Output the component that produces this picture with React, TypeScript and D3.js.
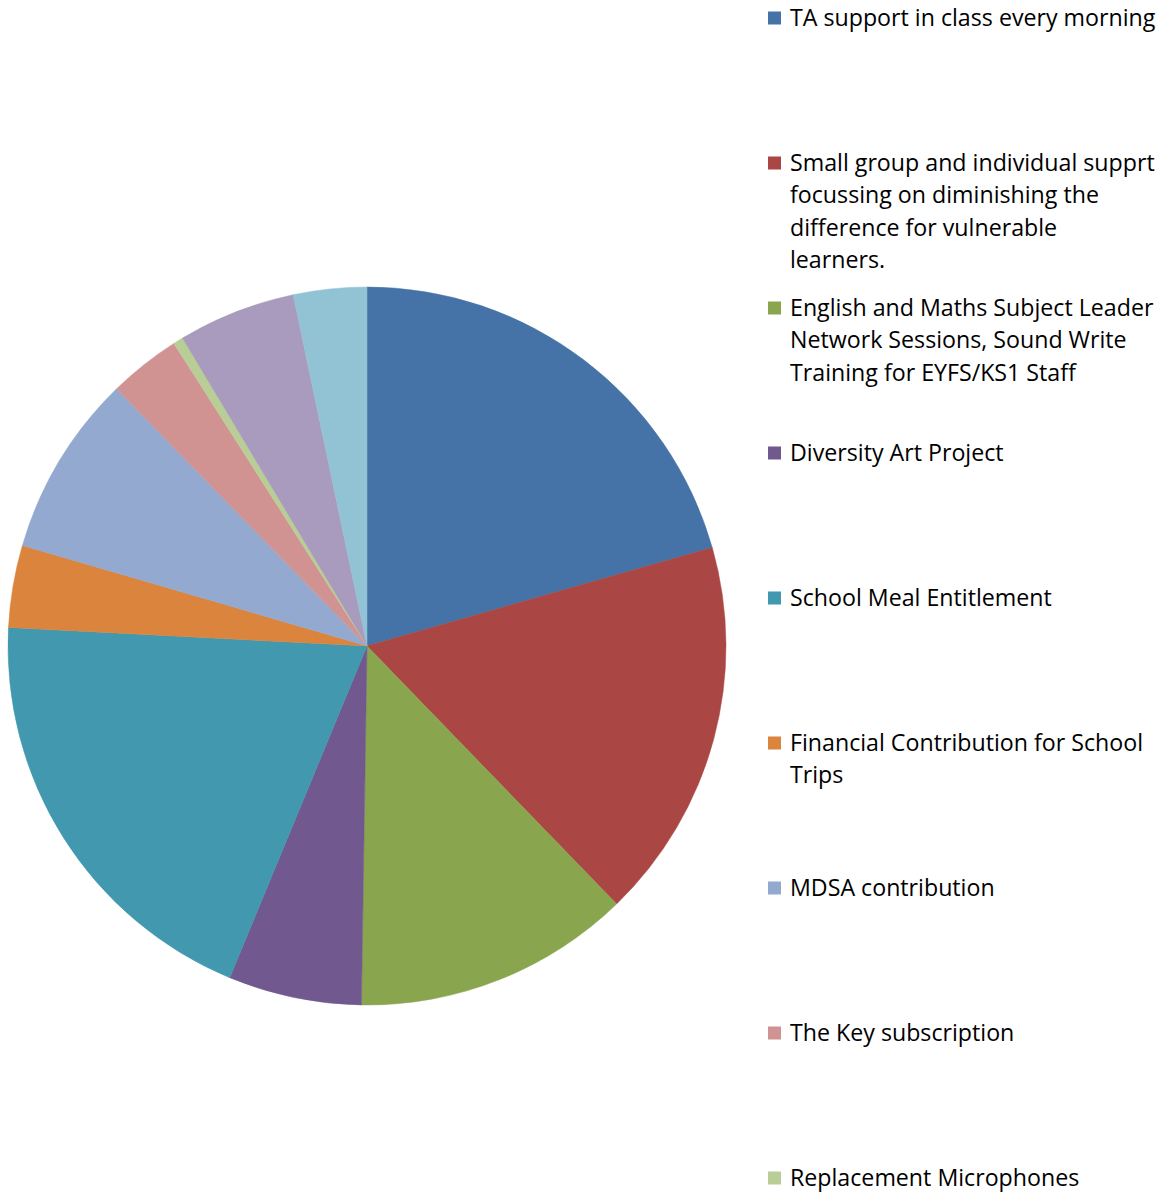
import React from "react";
import * as d3 from "d3";

const categories = [
  "TA support in class every morning",
  "Small group and individual supprt focussing on diminishing the difference for vulnerable learners.",
  "English and Maths Subject Leader Network Sessions, Sound Write Training for EYFS/KS1 Staff",
  "Diversity Art Project",
  "School Meal Entitlement",
  "Financial Contribution for School Trips",
  "MDSA contribution",
  "The Key subscription",
  "Replacement Microphones",
  "Item 10",
  "Item 11",
];

const legendLines: string[][] = [
  ["TA support in class every morning"],
  ["Small group and individual supprt", "focussing on diminishing the", "difference for vulnerable", "learners."],
  ["English and Maths Subject Leader", "Network Sessions, Sound Write", "Training for EYFS/KS1 Staff"],
  ["Diversity Art Project"],
  ["School Meal Entitlement"],
  ["Financial Contribution for School", "Trips"],
  ["MDSA contribution"],
  ["The Key subscription"],
  ["Replacement Microphones"],
  ["Item 10"],
  ["Item 11"],
];

const values = [20.6, 17.2, 12.5, 6.0, 19.6, 3.7, 8.2, 3.25, 0.45, 5.3, 3.3];

const colors = [
  "#4572A7", "#AA4643", "#89A54E", "#71588F", "#4198AF", "#DB843D",
  "#93A9CF", "#D19392", "#B9CD96", "#A99BBD", "#92C3D4",
];

export default function App() {
  const W = 1173, H = 1193;
  const cx = 367, cy = 646, r = 359;
  const pie = d3.pie<number>().sort(null).value((d) => d);
  const arcs = pie(values);
  const arc = d3.arc<d3.PieArcDatum<number>>().innerRadius(0).outerRadius(r);
  const legendX = 768, legendY0 = 18, legendStep = 145, lineH = 32.5;
  const font = "'Open Sans', sans-serif";

  return (
    <svg width={W} height={H} style={{ position: "absolute", left: 0, top: 0, background: "#fff" }}>
      <g transform={`translate(${cx},${cy})`}>
        {arcs.map((a, i) => (
          <path key={i} d={arc(a) || ""} fill={colors[i]} stroke={colors[i]} strokeWidth={0.5} />
        ))}
      </g>
      <g fontFamily={font} fontSize={23.2} fill="#000">
        {categories.map((c, i) => {
          const y = legendY0 + i * legendStep;
          if (y > H) return null;
          return (
            <g key={c}>
              <rect x={legendX} y={y - 6.5} width={13} height={13} fill={colors[i]} />
              {legendLines[i].map((ln, j) => (
                <text key={j} x={legendX + 22} y={y + j * lineH} dy="0.33em">
                  {ln}
                </text>
              ))}
            </g>
          );
        })}
      </g>
    </svg>
  );
}
